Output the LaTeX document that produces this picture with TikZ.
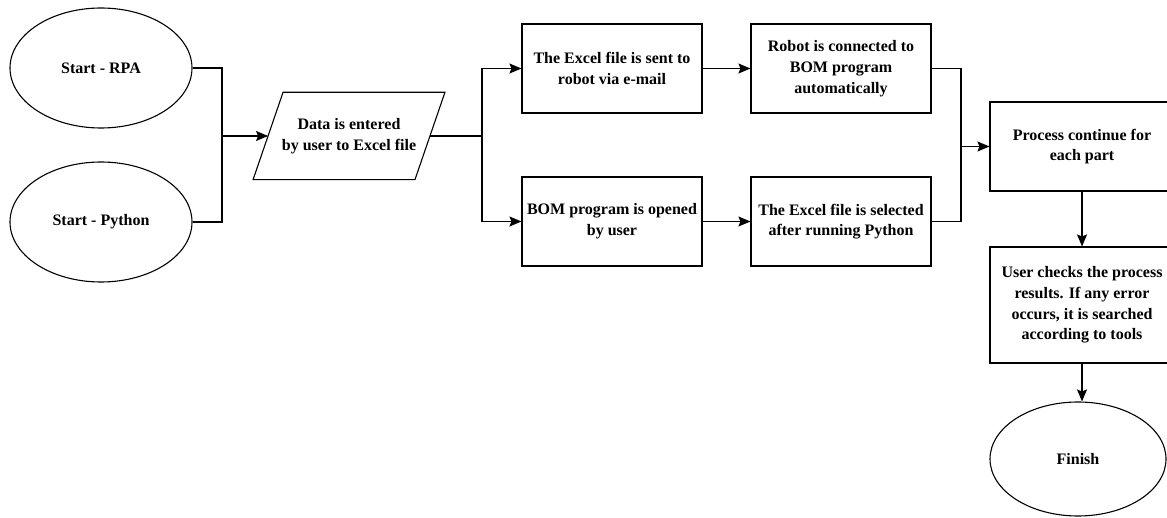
\documentclass[tikz,border=0pt]{standalone}
\usepackage{fontspec}
\setmainfont{Liberation Serif}
\usetikzlibrary{shapes.geometric,arrows.meta,calc}
\begin{document}
\begin{tikzpicture}[x=1pt,y=-1pt,
  every node/.style={font=\bfseries\fontsize{16}{20.7}\selectfont, align=center, inner sep=0pt},
  term/.style={draw, ellipse, line width=1.1pt, minimum width=182pt, minimum height=120pt},
  procbox/.style={draw, rectangle, line width=1.1pt, minimum width=180pt, minimum height=89pt},
  databox/.style={rectangle, minimum width=161.5pt, minimum height=87pt},
  conn/.style={line width=1.1pt, -{Stealth[length=12pt,width=10pt,inset=2pt]}},
  plain/.style={line width=1.1pt}
]
\useasboundingbox (0,0) rectangle (1167,518);
\node[term] (rpa) at (101,68) {Start - RPA};
\node[term] (py) at (101,222) {Start - Python};
\node[databox] (data) at (349,136) {Data is entered\\by user to Excel file};
\draw[plain, line join=miter] ($(data.north west)+(15,0)$) -- ($(data.north east)+(15,0)$) -- ($(data.south east)+(-15,0)$) -- ($(data.south west)+(-15,0)$) -- cycle;
\node[procbox] (mail) at (612,68.5) {The Excel file is sent to\\robot via e-mail};
\node[procbox] (robot) at (841,68.5) {Robot is connected to\\BOM program\\automatically};
\node[procbox] (bom) at (612,221.5) {BOM program is opened\\by user};
\node[procbox] (sel) at (841,221.5) {The Excel file is selected\\after running Python};
\node[procbox, minimum width=184pt] (cont) at (1082,146.5) {Process continue for\\each part};
\node[procbox, minimum width=184pt, minimum height=116pt] (check) at (1082,305) {User checks the process\\results. If any error\\occurs, it is searched\\according to tools};
\node[term, minimum width=176pt, minimum height=114pt] (fin) at (1078,459) {Finish};

\coordinate (j1) at (222,136);
\coordinate (j2) at (482,136);
\coordinate (j3) at (961,146.5);

\draw[plain] (rpa.east) -| (j1);
\draw[plain] (py.east) -| (j1);
\draw[conn] (j1) -- (data.west);
\draw[plain] (data.east) -- (j2);
\draw[conn] (j2) |- (mail.west);
\draw[conn] (j2) |- (bom.west);
\draw[conn] (mail) -- (robot);
\draw[conn] (bom) -- (sel);
\draw[plain] (robot.east) -| (j3);
\draw[plain] (sel.east) -| (j3);
\draw[conn] (j3) -- (cont.west);
\draw[conn] (cont.south) -- (check.north);
\draw[conn] (check.south) -- (check.south |- fin.north);
\end{tikzpicture}
\end{document}
